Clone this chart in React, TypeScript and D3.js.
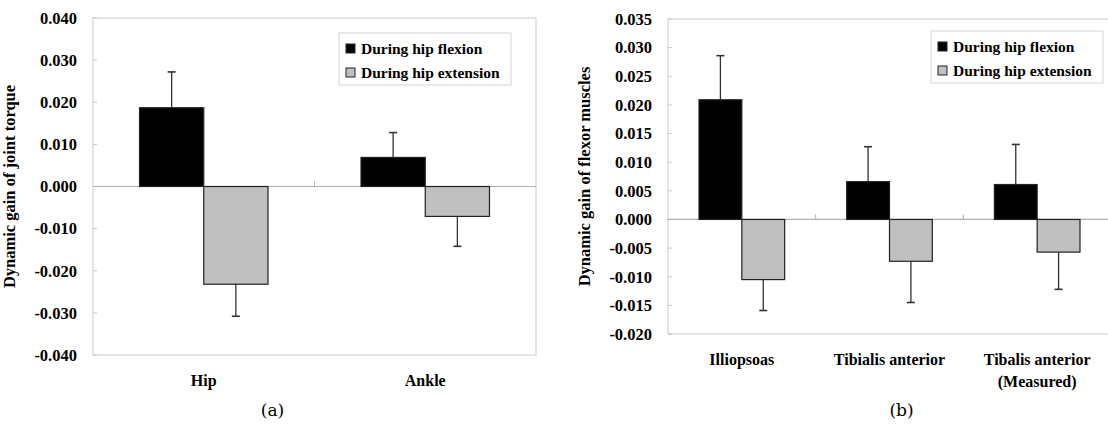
import { useRef, useEffect } from "react";
import * as d3 from "d3";

// panel (a): joint torque
const jointCategories = [["Hip"], ["Ankle"]];
const jointFlexion = [0.0187, 0.0069];
const jointFlexionErr = [0.0085, 0.0059];
const jointExtension = [-0.0232, -0.0071];
const jointExtensionErr = [0.0076, 0.0071];
const jointTicks = [-0.04, -0.03, -0.02, -0.01, 0, 0.01, 0.02, 0.03, 0.04];

// panel (b): flexor muscles
const muscleCategories = [["Illiopsoas"], ["Tibialis anterior"], ["Tibalis anterior", "(Measured)"]];
const muscleFlexion = [0.0209, 0.0066, 0.0061];
const muscleFlexionErr = [0.0077, 0.0061, 0.007];
const muscleExtension = [-0.0105, -0.0073, -0.0057];
const muscleExtensionErr = [0.0054, 0.0072, 0.0065];
const muscleTicks = [-0.02, -0.015, -0.01, -0.005, 0, 0.005, 0.01, 0.015, 0.02, 0.025, 0.03, 0.035];

const seriesNames = ["During hip flexion", "During hip extension"];
const seriesColors = ["#000000", "#c0c0c0"];

const W = 1108;
const H = 431;
const FONT = "'Liberation Serif', 'Times New Roman', serif";

interface Panel {
  categories: string[][];
  flexion: number[];
  flexionErr: number[];
  extension: number[];
  extensionErr: number[];
  ticks: number[];
  yTitle: string;
  tag: string;
  x0: number;
  x1: number;
  y0: number;
  y1: number;
  legendX: number;
  legendY: number;
}

const App = () => {
  const ref = useRef<SVGSVGElement | null>(null);

  useEffect(() => {
    const svg = d3.select(ref.current);
    svg.selectAll("*").remove();
    const fmt = (v: number) => d3.format(".3f")(v).replace("\u2212", "-");

    const drawPanel = (p: Panel) => {
      const g = svg.append("g");
      const names = p.categories.map((c) => c.join(" "));

      const y = d3
        .scaleLinear()
        .domain([d3.min(p.ticks) as number, d3.max(p.ticks) as number])
        .range([p.y1, p.y0]);
      const x = d3
        .scaleBand()
        .domain(names)
        .range([p.x0, p.x1])
        .paddingInner(0.42)
        .paddingOuter(0.21);
      const xs = d3.scaleBand().domain(seriesNames).range([0, x.bandwidth()]);

      // plot frame
      g.append("rect")
        .attr("x", p.x0)
        .attr("y", p.y0)
        .attr("width", p.x1 - p.x0)
        .attr("height", p.y1 - p.y0)
        .attr("fill", "none")
        .attr("stroke", "#d4d4d4")
        .attr("stroke-width", 1.2);

      // y ticks + labels
      g.selectAll(null)
        .data(p.ticks)
        .enter()
        .append("line")
        .attr("x1", p.x0)
        .attr("x2", p.x0 + 4)
        .attr("y1", (d) => y(d))
        .attr("y2", (d) => y(d))
        .attr("stroke", "#c8c8c8");

      g.selectAll(null)
        .data(p.ticks)
        .enter()
        .append("text")
        .attr("x", p.x0 - 16)
        .attr("y", (d) => y(d))
        .attr("dy", "0.35em")
        .attr("text-anchor", "end")
        .attr("font-family", FONT)
        .attr("font-weight", "bold")
        .attr("font-size", 16.5)
        .text((d) => fmt(d));

      // zero line and category dividers
      g.append("line")
        .attr("x1", p.x0)
        .attr("x2", p.x1)
        .attr("y1", y(0))
        .attr("y2", y(0))
        .attr("stroke", "#b0b0b0")
        .attr("stroke-width", 1.2);

      g.selectAll(null)
        .data(names.slice(1))
        .enter()
        .append("line")
        .attr("x1", (d) => (x(d) as number) - (x.step() - x.bandwidth()) / 2)
        .attr("x2", (d) => (x(d) as number) - (x.step() - x.bandwidth()) / 2)
        .attr("y1", y(0) - 5)
        .attr("y2", y(0))
        .attr("stroke", "#b0b0b0");

      const series = [
        { name: seriesNames[0], values: p.flexion, errs: p.flexionErr, color: seriesColors[0] },
        { name: seriesNames[1], values: p.extension, errs: p.extensionErr, color: seriesColors[1] },
      ];

      series.forEach((s) => {
        const bx = (i: number) => (x(names[i]) as number) + (xs(s.name) as number);
        const mid = (i: number) => bx(i) + xs.bandwidth() / 2;
        const tip = (d: number, i: number) => y(d + Math.sign(d) * s.errs[i]);
        // error bars, one-sided outward
        g.selectAll(null)
          .data(s.values)
          .enter()
          .append("line")
          .attr("x1", (_d, i) => mid(i))
          .attr("x2", (_d, i) => mid(i))
          .attr("y1", (d) => y(d))
          .attr("y2", (d, i) => tip(d, i))
          .attr("stroke", "#333")
          .attr("stroke-width", 1.3);
        g.selectAll(null)
          .data(s.values)
          .enter()
          .append("line")
          .attr("x1", (_d, i) => mid(i) - 4)
          .attr("x2", (_d, i) => mid(i) + 4)
          .attr("y1", (d, i) => tip(d, i))
          .attr("y2", (d, i) => tip(d, i))
          .attr("stroke", "#333")
          .attr("stroke-width", 1.6);

        g.selectAll(null)
          .data(s.values)
          .enter()
          .append("rect")
          .attr("x", (_d, i) => bx(i))
          .attr("y", (d) => y(Math.max(0, d)))
          .attr("width", xs.bandwidth())
          .attr("height", (d) => Math.abs(y(d) - y(0)))
          .attr("fill", s.color)
          .attr("stroke", "#222")
          .attr("stroke-width", 1.2);
      });

      // category labels
      p.categories.forEach((lines, i) => {
        const cx = (x(names[i]) as number) + x.bandwidth() / 2;
        const t = g
          .append("text")
          .attr("y", p.y1 + 31)
          .attr("text-anchor", "middle")
          .attr("font-family", FONT)
          .attr("font-weight", "bold")
          .attr("font-size", 16);
        lines.forEach((l, j) => {
          t.append("tspan")
            .attr("x", cx)
            .attr("dy", j === 0 ? 0 : 22)
            .text(l);
        });
      });

      // y title
      g.append("text")
        .attr("transform", `translate(${p.x0 - 78},${(p.y0 + p.y1) / 2}) rotate(-90)`)
        .attr("text-anchor", "middle")
        .attr("font-family", FONT)
        .attr("font-weight", "bold")
        .attr("font-size", 16.5)
        .text(p.yTitle);

      // legend
      const lg = g.append("g").attr("transform", `translate(${p.legendX},${p.legendY})`);
      lg.append("rect")
        .attr("width", 172)
        .attr("height", 52)
        .attr("fill", "#fff")
        .attr("stroke", "#d4d4d4");
      seriesNames.forEach((n, i) => {
        lg.append("rect")
          .attr("x", 7)
          .attr("y", 11 + i * 24)
          .attr("width", 9)
          .attr("height", 9)
          .attr("fill", seriesColors[i])
          .attr("stroke", "#222");
        lg.append("text")
          .attr("x", 22)
          .attr("y", 16 + i * 24)
          .attr("dy", "0.35em")
          .attr("font-family", FONT)
          .attr("font-weight", "bold")
          .attr("font-size", 15.5)
          .text(n);
      });

      // panel tag
      svg
        .append("text")
        .attr("x", (p.x0 + p.x1) / 2 + (p.tag === "(a)" ? -42 : 12))
        .attr("y", 416)
        .attr("text-anchor", "middle")
        .attr("font-family", "'DejaVu Serif', serif")
        .attr("font-size", 17)
        .text(p.tag);
    };

    drawPanel({
      categories: jointCategories,
      flexion: jointFlexion,
      flexionErr: jointFlexionErr,
      extension: jointExtension,
      extensionErr: jointExtensionErr,
      ticks: jointTicks,
      yTitle: "Dynamic gain of joint torque",
      tag: "(a)",
      x0: 93,
      x1: 536,
      y0: 18,
      y1: 355,
      legendX: 339,
      legendY: 33,
    });

    drawPanel({
      categories: muscleCategories,
      flexion: muscleFlexion,
      flexionErr: muscleFlexionErr,
      extension: muscleExtension,
      extensionErr: muscleExtensionErr,
      ticks: muscleTicks,
      yTitle: "Dynamic gain of flexor muscles",
      tag: "(b)",
      x0: 668,
      x1: 1111,
      y0: 19,
      y1: 334,
      legendX: 931,
      legendY: 31,
    });
  }, []);

  return (
    <svg
      ref={ref}
      width={W}
      height={H}
      style={{ position: "absolute", left: 0, top: 0, background: "#fff" }}
    />
  );
};

export default App;
